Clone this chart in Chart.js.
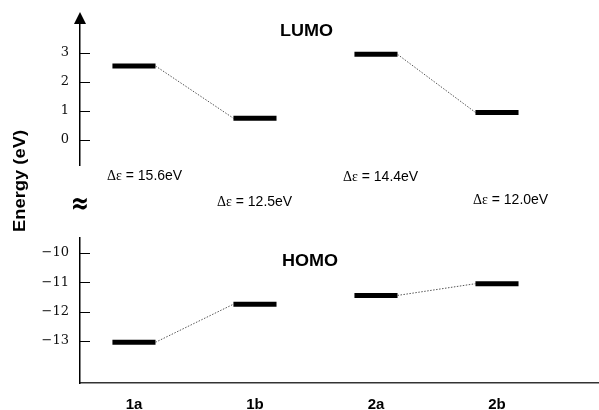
<!DOCTYPE html>
<html>
<head>
<meta charset="utf-8">
<script src="https://cdn.jsdelivr.net/npm/chart.js@4/dist/chart.umd.min.js"></script>
<style>
  html, body { margin: 0; padding: 0; background: #fff; }
  #wrap { width: 599px; height: 410px; }
</style>
</head>
<body>
<div id="wrap"><canvas id="c" width="599" height="410"></canvas></div>
<script>
// Frontier orbital energies (eV) of the four compounds
const compounds = ['1a', '1b', '2a', '2b'];
const lumoEnergy = [2.55, 0.75, 2.95, 0.95];
const homoEnergy = [-13.05, -11.75, -11.45, -11.05];
const upperTicks = [0, 1, 2, 3];
const lowerTicks = [-10, -11, -12, -13];
// compounds joined by a correlation line
const pairs = [[0, 1], [2, 3]];

const HALF = 0.178;        // half length of a level bar, in category units
const SERIF = '"DejaVu Serif", serif';
const SANS = '"Liberation Sans", Arial, sans-serif';

function levelSet(values, pair, axis) {
  const [a, b] = pair;
  return {
    data: [
      { x: a + 1 - HALF, y: values[a] }, { x: a + 1 + HALF, y: values[a] },
      { x: b + 1 - HALF, y: values[b] }, { x: b + 1 + HALF, y: values[b] }
    ],
    yAxisID: axis,
    borderColor: '#000',
    borderWidth: 5,
    borderCapStyle: 'butt',
    pointRadius: 0,
    tension: 0,
    fill: false,
    segment: {
      borderWidth: c => c.p0DataIndex === 1 ? 1 : 5,
      borderColor: c => c.p0DataIndex === 1 ? '#555' : '#000',
      borderDash: c => c.p0DataIndex === 1 ? [1.5, 1.5] : []
    }
  };
}

const datasets = [];
pairs.forEach(p => {
  datasets.push(levelSet(lumoEnergy, p, 'yUpper'));
  datasets.push(levelSet(homoEnergy, p, 'yLower'));
});

const minusSign = v => String(v).replace('-', '\u2212');

function yAxis(weight, min, max, ticks) {
  return {
    type: 'linear',
    position: 'left',
    stack: 'energy',
    stackWeight: weight,
    min, max,
    grid: { display: false, drawTicks: false },
    border: { display: true, color: '#000', width: 1.5 },
    ticks: {
      padding: 11,
      color: '#111',
      font: { family: SERIF, size: 13 },
      callback: v => minusSign(v)
    },
    afterBuildTicks: s => { s.ticks = ticks.map(v => ({ value: v })); },
    afterFit: s => { s.width = 80; }
  };
}

// fillText squeezed or stretched to a given width
function fitText(ctx, text, x, y, width) {
  const w = ctx.measureText(text).width;
  ctx.save();
  ctx.translate(x, y);
  ctx.scale(width / w, 1);
  ctx.fillText(text, 0, 0);
  ctx.restore();
}

const decorations = {
  id: 'decorations',
  afterDraw(chart) {
    const ctx = chart.ctx;
    const up = chart.scales.yUpper;
    const low = chart.scales.yLower;
    ctx.save();

    // inward tick marks
    ctx.strokeStyle = '#000';
    ctx.lineWidth = 1.2;
    ctx.beginPath();
    [up, low].forEach(s => {
      s.ticks.forEach(t => {
        const y = Math.round(s.getPixelForValue(t.value)) + 0.5;
        ctx.moveTo(s.right, y);
        ctx.lineTo(s.right + 10, y);
      });
    });
    ctx.stroke();

    // arrow head on the energy axis
    const ax = up.right;
    ctx.fillStyle = '#000';
    ctx.beginPath();
    ctx.moveTo(ax, up.top - 11);
    ctx.lineTo(ax - 6, up.top + 1);
    ctx.lineTo(ax + 6, up.top + 1);
    ctx.closePath();
    ctx.fill();

    // axis break mark
    ctx.save();
    ctx.translate(ax, 205);
    ctx.scale(1, 1.35);
    ctx.font = 'bold 22px "DejaVu Sans", sans-serif';
    ctx.textAlign = 'center';
    ctx.textBaseline = 'middle';
    ctx.fillText('\u2248', 0, 0);
    ctx.restore();

    // orbital headings
    ctx.textAlign = 'left';
    ctx.textBaseline = 'alphabetic';
    ctx.font = 'bold 16px ' + SANS;
    fitText(ctx, 'LUMO', 280, 36, 53);
    fitText(ctx, 'HOMO', 282, 266, 56);

    // axis title
    ctx.save();
    ctx.translate(25, 232);
    ctx.rotate(-Math.PI / 2);
    ctx.font = 'bold 16px ' + SANS;
    fitText(ctx, 'Energy (eV)', 0, 0, 102);
    ctx.restore();

    // HOMO-LUMO gaps
    const gapPos = [[107, 180], [217, 206], [343, 181], [473, 204]];
    compounds.forEach((c, i) => {
      const gap = (lumoEnergy[i] - homoEnergy[i]).toFixed(1);
      let [x, y] = gapPos[i];
      ctx.font = '14px "Liberation Serif", serif';
      ctx.fillText('\u0394\u03b5', x, y);
      x += ctx.measureText('\u0394\u03b5').width;
      ctx.font = '14px ' + SANS;
      ctx.fillText(' = ' + gap + 'eV', x, y);
    });
    ctx.restore();
  }
};

new Chart(document.getElementById('c'), {
  type: 'line',
  data: { datasets },
  options: {
    responsive: false,
    animation: false,
    events: [],
    layout: { padding: { top: 23, left: 0, right: 0, bottom: 0 } },
    plugins: { legend: { display: false }, tooltip: { enabled: false } },
    scales: {
      x: {
        type: 'linear',
        min: 0.554,
        max: 4.843,
        grid: { display: false, drawTicks: false },
        border: { display: true, color: '#333', width: 1.5 },
        ticks: {
          padding: 13,
          color: '#000',
          font: { family: SANS, size: 15, weight: 'bold' },
          callback: v => compounds[v - 1] ?? ''
        },
        afterBuildTicks: s => { s.ticks = compounds.map((_, i) => ({ value: i + 1 })); },
        afterFit: s => { s.height = 27; }
      },
      yLower: yAxis(145, -14.44, -9.49, lowerTicks),
      yBreak: {
        type: 'linear',
        position: 'left',
        stack: 'energy',
        stackWeight: 73,
        min: 0, max: 1,
        grid: { display: false, drawTicks: false },
        border: { display: false },
        ticks: { display: false },
        afterFit: s => { s.width = 80; }
      },
      yUpper: yAxis(142, -0.86, 4.03, upperTicks)
    }
  },
  plugins: [decorations]
});
</script>
</body>
</html>
